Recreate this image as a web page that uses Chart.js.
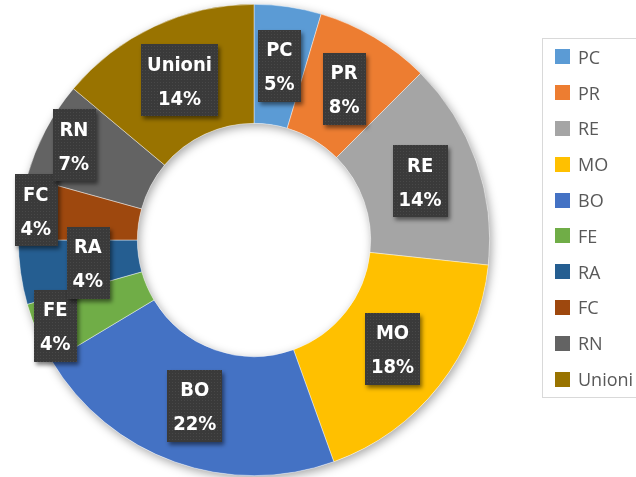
<!DOCTYPE html>
<html>
<head>
<meta charset="utf-8">
<script src="https://cdn.jsdelivr.net/npm/chart.js@4.4.1/dist/chart.umd.min.js"></script>
<style>
  html, body { margin: 0; padding: 0; background: #fff; overflow: hidden; }
  #wrap { position: relative; width: 636px; height: 477px; }
  #legend {
    position: absolute; left: 542px; top: 38px; width: 130px; height: 358px;
    border: 1px solid #d9d9d9; font-family: "Open Sans", sans-serif; font-size: 18px; color: #595959;
  }
  .lg-item { height: 35.8px; display: flex; align-items: center; white-space: nowrap; }
  .lg-box { width: 15px; height: 15px; margin-left: 12px; margin-right: 8px; flex: none; }
</style>
</head>
<body>
<div id="wrap">
  <canvas id="donut" width="636" height="477"></canvas>
  <div id="legend"></div>
</div>
<script>
/* ── dati ── */
const labels = ['PC', 'PR', 'RE', 'MO', 'BO', 'FE', 'RA', 'FC', 'RN', 'Unioni'];
const values = [4.6, 7.9, 14.2, 17.8, 21.9, 4.2, 4.4, 4.3, 6.8, 13.9];
const colors = ['#5b9bd5', '#ed7d31', '#a5a5a5', '#ffc000', '#4472c4', '#70ad47', '#255e91', '#9e480e', '#636363', '#997300'];

/* ombra dell'anello */
const ringShadow = {
  id: 'ringShadow',
  beforeDatasetsDraw(chart) {
    const arc = chart.getDatasetMeta(0).data[0];
    if (!arc) return;
    const p = arc.getProps(['x', 'y', 'innerRadius', 'outerRadius'], true);
    const ctx = chart.ctx;
    ctx.save();
    ctx.shadowColor = 'rgba(0,0,0,0.35)';
    ctx.shadowBlur = 10;
    ctx.shadowOffsetX = 2;
    ctx.shadowOffsetY = 3;
    ctx.beginPath();
    ctx.arc(p.x, p.y, p.outerRadius, 0, Math.PI * 2);
    ctx.arc(p.x, p.y, p.innerRadius, 0, Math.PI * 2, true);
    ctx.fillStyle = '#fff';
    ctx.fill();
    ctx.restore();
  }
};

/* etichette scure con nome e percentuale */
function makePattern(ctx) {
  const c = document.createElement('canvas');
  c.width = 3; c.height = 3;
  const g = c.getContext('2d');
  g.fillStyle = '#3a3a3a';
  g.fillRect(0, 0, 3, 3);
  g.fillStyle = '#484848';
  g.fillRect(1, 1, 1, 1);
  return ctx.createPattern(c, 'repeat');
}

const boxLabels = {
  id: 'boxLabels',
  afterDatasetsDraw(chart, args, opts) {
    const ctx = chart.ctx;
    const total = values.reduce((s, v) => s + v, 0);
    const pattern = makePattern(ctx);
    chart.getDatasetMeta(0).data.forEach((arc, i) => {
      const p = arc.getProps(['x', 'y', 'startAngle', 'endAngle', 'innerRadius', 'outerRadius'], true);
      const mid = (p.startAngle + p.endAngle) / 2;
      const r = p.innerRadius + (p.outerRadius - p.innerRadius) * opts.radial[i];
      const cx = p.x + Math.cos(mid) * r;
      const cy = p.y + Math.sin(mid) * r;
      const pct = Math.round(values[i] / total * 100) + '%';

      ctx.save();
      ctx.font = opts.font;
      const w = Math.max(ctx.measureText(labels[i]).width, ctx.measureText(pct).width) + 12;
      const h = 72;
      ctx.shadowColor = 'rgba(0,0,0,0.5)';
      ctx.shadowBlur = 4;
      ctx.shadowOffsetX = 2;
      ctx.shadowOffsetY = 3;
      ctx.fillStyle = pattern;
      ctx.fillRect(Math.round(cx - w / 2), Math.round(cy - h / 2), Math.round(w), h);
      ctx.shadowColor = 'transparent';
      ctx.fillStyle = '#fff';
      ctx.textAlign = 'center';
      ctx.textBaseline = 'middle';
      ctx.fillText(labels[i], cx, cy - 15);
      ctx.fillText(pct, cx, cy + 19);
      ctx.restore();
    });
  }
};

new Chart(document.getElementById('donut'), {
  type: 'doughnut',
  data: {
    labels,
    datasets: [{
      data: values,
      backgroundColor: colors,
      borderColor: 'rgba(255,255,255,0.6)',
      borderWidth: 0.7,
      clip: false
    }]
  },
  options: {
    responsive: false,
    animation: false,
    cutout: '49.5%',
    layout: { padding: { left: 18, top: 4, right: 146, bottom: 1 } },
    plugins: {
      legend: { display: false },
      tooltip: { enabled: false },
      boxLabels: {
        font: 'bold 20px "Liberation Sans Narrow", "DejaVu Sans Condensed", sans-serif',
        radial: [0.5, 0.5, 0.5, 0.5, 0.5, 0.84, 0.43, 0.87, 0.73, 0.5]
      }
    }
  },
  plugins: [ringShadow, boxLabels]
});

/* legenda */
document.getElementById('legend').innerHTML = labels.map((l, i) => `
  <div class="lg-item"><span class="lg-box" style="background:${colors[i]}"></span>${l}</div>`).join('');
</script>
</body>
</html>
